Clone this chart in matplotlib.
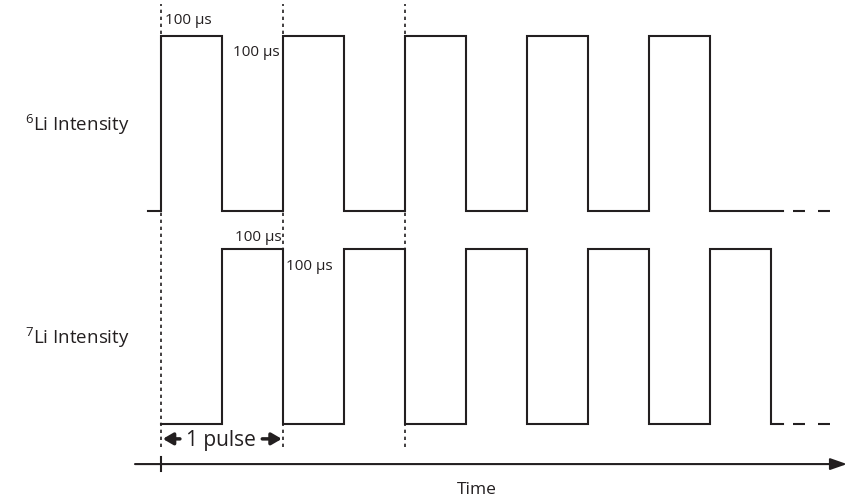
import numpy as np
import matplotlib
matplotlib.use('Agg')
import matplotlib.pyplot as plt

plt.rcParams['font.family'] = ['Open Sans', 'DejaVu Sans']
plt.rcParams['mathtext.fontset'] = 'custom'
plt.rcParams['mathtext.rm'] = 'Open Sans'

# time in units of 100 us (one half pulse)
edges = np.arange(0, 11)          # switching times 0..10
li6_states = [1, 0, 1, 0, 1, 0, 1, 0, 1, 0, 0]   # state after each edge
li7_states = [0, 1, 0, 1, 0, 1, 0, 1, 0, 1, 0]
li6_start = -0.21                 # flat lead-in before first pulse
solid_end = 10.2                  # where the solid trace stops
dash_start = 10.36                # dashed continuation
dash_end = 11.0
pulse_marks = [0, 2, 4]           # dotted guide lines
half_label = '100 µs'

INK = '#231f20'

# vertical layout (data units, amplitude 1)
li7_base, li6_base = 0.0, 1.217

fig = plt.figure(figsize=(8.47, 5.02), dpi=100)
ax = fig.add_axes([0, 0, 1, 1])
ax.set_xlim(-161 / 61, 686 / 61)
ax.set_ylim(-77 / 175, 425 / 175)
ax.axis('off')


def trace(base, states, start=None):
    t = list(edges) + [solid_end]
    s = list(states) + [states[-1]]
    if start is not None:
        t = [start] + t
        s = [1 - states[0]] + s
    ax.step(t, base + np.array(s), where='post', color=INK, lw=1.5,
            solid_joinstyle='miter')
    ax.plot([dash_start, dash_end], [base + states[-1]] * 2, color=INK, lw=1.5,
            linestyle=(0, (5.75, 6.25)))


trace(li6_base, li6_states, li6_start)
trace(li7_base, li7_states)

for m in pulse_marks:
    ax.plot([m, m], [-0.131, 2.4], color=INK, lw=1.2, linestyle=(0, (2, 2.2)))

# time axis
ax.annotate('', xy=(686 / 61, -0.229), xytext=(-0.426, -0.229),
            arrowprops=dict(arrowstyle='-|>,head_length=1.0,head_width=0.35',
                            color=INK, lw=1.5, shrinkA=0, shrinkB=0))
ax.plot([0, 0], [-0.189, -0.269], color=INK, lw=1.5)
ax.text(5.18, -0.371, 'Time', ha='center', va='center', fontsize=12.5, color=INK)

# channel labels
for y, iso in [(1.714, '6'), (0.497, '7')]:
    ax.text(-2.23, y, r'$\mathregular{^{%s}}$Li Intensity' % iso, ha='left',
            va='center', fontsize=13.5, color=INK)

# duration labels
ax.text(0.07, 2.314, half_label, ha='left', va='center', fontsize=11, color=INK)
ax.text(1.95, 2.126, half_label, ha='right', va='center', fontsize=11, color=INK)
ax.text(1.97, 1.074, half_label, ha='right', va='center', fontsize=11, color=INK)
ax.text(2.05, 0.903, half_label, ha='left', va='center', fontsize=11, color=INK)

# one pulse marker
ax.text(0.98, -0.091, '1 pulse', ha='center', va='center', fontsize=15, color=INK)
arrow = dict(arrowstyle='-|>,head_length=0.6,head_width=0.35', color=INK, lw=2.5,
             shrinkA=0, shrinkB=0)
ax.annotate('', xy=(0.03, -0.085), xytext=(0.31, -0.085), arrowprops=arrow)
ax.annotate('', xy=(1.98, -0.085), xytext=(1.66, -0.085), arrowprops=arrow)

fig.savefig('out.png', dpi=100)
